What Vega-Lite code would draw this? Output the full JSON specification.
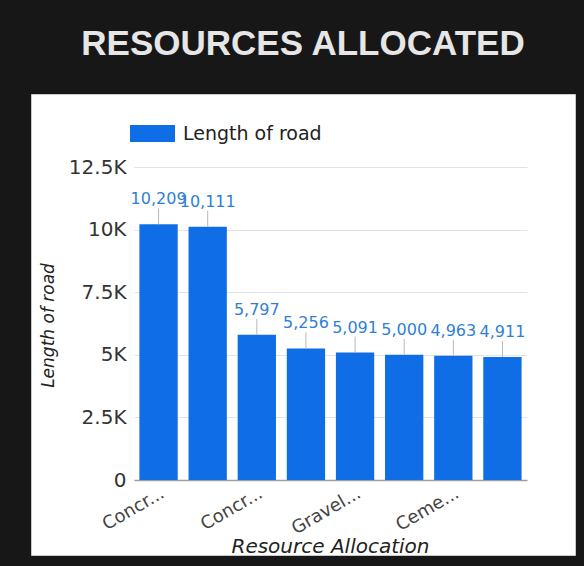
{
  "$schema": "https://vega.github.io/schema/vega-lite/v6.json",
  "autosize": "none",
  "width": 544,
  "height": 461,
  "padding": {"left": 31, "top": 94, "right": 9, "bottom": 11},
  "background": "#171717",
  "title": {
    "text": "RESOURCES ALLOCATED",
    "anchor": "middle",
    "font": "Liberation Sans",
    "fontSize": 35,
    "fontWeight": "bold",
    "color": "#e6e6e6",
    "offset": 32
  },
  "data": {
    "values": [
      {"resource": "Concrete Road Surfacing", "length": 10209},
      {"resource": "Concrete Kerbs", "length": 10111},
      {"resource": "Concrete Drainage", "length": 5797},
      {"resource": "Asphalt Overlay", "length": 5256},
      {"resource": "Gravel Base Course", "length": 5091},
      {"resource": "Gravel Shoulders", "length": 5000},
      {"resource": "Cement Stabilisation", "length": 4963},
      {"resource": "Bitumen Sealing", "length": 4911}
    ]
  },
  "encoding": {
    "x": {
      "field": "resource",
      "type": "nominal",
      "sort": null,
      "scale": {"range": [103, 496], "paddingInner": 0.22, "paddingOuter": 0.11},
      "axis": {
        "title": "Resource Allocation",
        "values": ["Concrete Road Surfacing", "Concrete Drainage", "Gravel Base Course", "Cement Stabilisation"],
        "labelExpr": "datum.label == 'Gravel Base Course' ? 'Gravel...' : datum.label == 'Cement Stabilisation' ? 'Ceme...' : 'Concr...'",
        "labelAngle": -30,
        "labelAlign": "right",
        "labelBaseline": "top",
        "labelPadding": 4,
        "labelFont": "DejaVu Sans",
        "labelFontSize": 18,
        "labelColor": "#444444",
        "offset": -75,
        "ticks": false,
        "tickSize": 0,
        "grid": false,
        "domainColor": "#9e9e9e",
        "domainWidth": 1.5,
        "titleFont": "DejaVu Sans",
        "titleFontStyle": "italic",
        "titleFontWeight": "normal",
        "titleFontSize": 20,
        "titleColor": "#222222",
        "titleX": 299,
        "titleY": 72,
        "titleBaseline": "alphabetic"
      }
    },
    "y": {
      "field": "length",
      "type": "quantitative",
      "scale": {"domain": [0, 12500], "range": [386, 73], "nice": false},
      "axis": {
        "title": "Length of road",
        "values": [0, 2500, 5000, 7500, 10000, 12500],
        "labelExpr": "datum.value == 0 ? '0' : format(datum.value / 1000, '~g') + 'K'",
        "offset": -103,
        "domain": false,
        "ticks": false,
        "tickSize": 0,
        "labelPadding": 8,
        "labelFont": "DejaVu Sans",
        "labelFontSize": 20,
        "labelColor": "#333333",
        "gridColor": "#e3e3e3",
        "titleFont": "DejaVu Sans",
        "titleFontStyle": "italic",
        "titleFontWeight": "normal",
        "titleFontSize": 17,
        "titleColor": "#222222",
        "titleX": -86,
        "titleY": 231,
        "titleAngle": -90,
        "titleAlign": "center",
        "titleBaseline": "middle"
      }
    }
  },
  "layer": [
    {
      "mark": {"type": "bar"},
      "encoding": {
        "color": {
          "datum": "Length of road",
          "type": "nominal",
          "scale": {"range": ["#0f6ee6"]},
          "legend": {
            "title": null,
            "orient": "none",
            "legendX": 99,
            "legendY": 17,
            "padding": 0,
            "symbolType": "M-1,-0.378H1V0.378H-1Z",
            "symbolSize": 2025,
            "symbolStrokeWidth": 0,
            "labelFont": "DejaVu Sans",
            "labelFontSize": 19,
            "labelColor": "#222222",
            "labelOffset": 8
          }
        }
      }
    },
    {
      "mark": {"type": "rule", "color": "#b8b8b8", "strokeWidth": 1, "y2Offset": -16},
      "encoding": {"y2": {"field": "length"}}
    },
    {
      "mark": {
        "type": "text",
        "dy": -20,
        "baseline": "alphabetic",
        "font": "DejaVu Sans",
        "fontSize": 16,
        "color": "#2f7fd8"
      },
      "encoding": {"text": {"field": "length", "type": "quantitative", "format": ","}}
    }
  ],
  "config": {"view": {"fill": "#ffffff", "stroke": "#c8c8c8"}}
}
